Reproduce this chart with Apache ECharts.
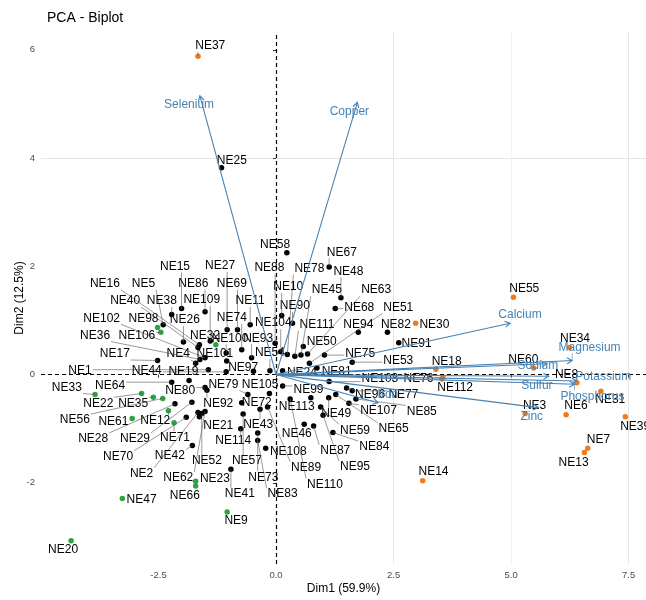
<!DOCTYPE html>
<html>
<head>
<meta charset="utf-8">
<script src="https://cdn.jsdelivr.net/npm/echarts@6/dist/echarts.min.js"></script>
<style>
  html, body { margin: 0; background: #fff; }
  #chart { width: 646px; height: 600px; }
</style>
</head>
<body>
<div id="chart"></div>
<script>
// tick labels
const xTicks = [-2.5, 0, 2.5, 5, 7.5];
const yTicks = [-2, 0, 2, 4, 6];

// individuals: [name, Dim1, Dim2, label Dim1, label Dim2]
const orangePoints = [
  ['NE37', -1.66, 5.88, -1.40, 6.07],
  ['NE55', 5.05, 1.43, 5.28, 1.58],
  ['NE30', 2.97, 0.95, 3.37, 0.92],
  ['NE34', 6.24, 0.50, 6.36, 0.67],
  ['NE60', 5.48, 0.12, 5.26, 0.28],
  ['NE8', 6.40, -0.15, 6.18, 0.00],
  ['NE31', 6.91, -0.31, 7.11, -0.46],
  ['NE3', 5.30, -0.72, 5.50, -0.58],
  ['NE6', 6.17, -0.74, 6.38, -0.58],
  ['NE39', 7.43, -0.78, 7.64, -0.96],
  ['NE7', 6.63, -1.36, 6.86, -1.21],
  ['NE13', 6.56, -1.44, 6.33, -1.62],
  ['NE18', 3.40, 0.10, 3.63, 0.24],
  ['NE76', 3.55, -0.06, 3.03, -0.07],
  ['NE112', 3.53, -0.08, 3.81, -0.24],
  ['NE14', 3.12, -1.96, 3.35, -1.79]
];

const greenPoints = [
  ['NE98', -2.52, 0.87, -2.82, 1.04],
  ['NE106', -2.45, 0.78, -2.96, 0.72],
  ['NE32', -1.28, 0.55, -1.51, 0.72],
  ['NE33', -3.85, -0.37, -4.45, -0.24],
  ['NE22', -2.86, -0.35, -3.78, -0.53],
  ['NE35', -2.61, -0.42, -3.04, -0.53],
  ['NE56', -2.41, -0.44, -4.28, -0.84],
  ['NE61', -3.06, -0.81, -3.46, -0.87],
  ['NE12', -2.29, -0.67, -2.57, -0.86],
  ['NE71', -2.17, -0.89, -2.15, -1.16],
  ['NE23', -1.71, -1.97, -1.30, -1.93],
  ['NE66', -1.71, -2.06, -1.94, -2.23],
  ['NE47', -3.27, -2.29, -2.86, -2.32],
  ['NE20', -4.36, -3.07, -4.53, -3.23],
  ['NE9', -1.04, -2.54, -0.85, -2.70]
];

const blackPoints = [
  ['NE25', -1.16, 3.82, -0.94, 3.96],
  ['NE15', -2.01, 1.22, -2.15, 2.00],
  ['NE16', -1.63, 0.55, -3.64, 1.68],
  ['NE5', -2.40, 0.92, -2.82, 1.68],
  ['NE86', -1.51, 1.16, -1.76, 1.68],
  ['NE27', -1.04, 0.83, -1.19, 2.01],
  ['NE40', -1.66, 0.50, -3.21, 1.36],
  ['NE38', -2.22, 1.11, -2.43, 1.36],
  ['NE109', -1.40, 0.62, -1.58, 1.38],
  ['NE69', -0.82, 0.83, -0.94, 1.68],
  ['NE11', -0.55, 0.92, -0.55, 1.36],
  ['NE102', -1.51, 0.31, -3.71, 1.04],
  ['NE26', -1.97, 0.60, -1.94, 1.01],
  ['NE74', -0.73, 0.46, -0.94, 1.05],
  ['NE36', -1.62, 0.28, -3.85, 0.72],
  ['NE17', -2.52, 0.26, -3.43, 0.38],
  ['NE4', -1.71, 0.21, -2.08, 0.38],
  ['NE100', -1.06, 0.40, -0.98, 0.67],
  ['NE101', -1.05, 0.25, -1.30, 0.38],
  ['NE93', -0.52, 0.31, -0.38, 0.67],
  ['NE54', -0.13, 0.07, -0.13, 0.40],
  ['NE1', -1.44, 0.09, -4.17, 0.07],
  ['NE44', -1.06, 0.05, -2.75, 0.07],
  ['NE19', -1.85, -0.11, -1.97, 0.05],
  ['NE97', -0.48, 0.06, -0.70, 0.12],
  ['NE64', -2.22, -0.14, -3.53, -0.21],
  ['NE80', -1.51, -0.24, -2.04, -0.30],
  ['NE92', -1.47, -0.29, -1.23, -0.54],
  ['NE79', -0.60, -0.37, -1.12, -0.18],
  ['NE28', -2.15, -0.54, -3.89, -1.19],
  ['NE29', -1.79, -0.51, -3.00, -1.19],
  ['NE70', -1.91, -0.79, -3.36, -1.52],
  ['NE2', -1.66, -0.70, -2.86, -1.83],
  ['NE62', -1.51, -0.68, -2.08, -1.91],
  ['NE21', -1.63, -0.78, -1.23, -0.95],
  ['NE52', -1.58, -0.72, -1.47, -1.60],
  ['NE42', -1.78, -1.31, -2.26, -1.50],
  ['NE41', -0.96, -1.75, -0.77, -2.21],
  ['NE72', -0.73, -0.52, -0.41, -0.52],
  ['NE57', -0.70, -0.73, -0.62, -1.60],
  ['NE114', -0.75, -1.00, -0.91, -1.23],
  ['NE43', -0.34, -0.64, -0.38, -0.93],
  ['NE89', -0.18, -0.60, 0.64, -1.72],
  ['NE73', -0.39, -1.08, -0.27, -1.90],
  ['NE83', -0.39, -1.22, 0.14, -2.21],
  ['NE108', -0.22, -1.36, 0.26, -1.42],
  ['NE105', -0.14, -0.35, -0.34, -0.18],
  ['NE99', 0.14, -0.21, 0.69, -0.28],
  ['NE113', 0.74, -0.43, 0.44, -0.60],
  ['NE110', 0.30, -0.45, 1.04, -2.03],
  ['NE46', 0.60, -0.92, 0.44, -1.10],
  ['NE87', 0.80, -0.95, 1.26, -1.41],
  ['NE49', 1.12, -0.43, 1.28, -0.73],
  ['NE59', 0.95, -0.60, 1.68, -1.03],
  ['NE95', 1.00, -0.75, 1.68, -1.71],
  ['NE84', 1.21, -1.07, 2.09, -1.34],
  ['NE65', 1.27, -0.37, 2.50, -1.00],
  ['NE107', 1.55, -0.53, 2.18, -0.67],
  ['NE96', 1.50, -0.25, 2.00, -0.38],
  ['NE77', 1.62, -0.30, 2.71, -0.38],
  ['NE85', 1.70, -0.45, 3.10, -0.68],
  ['NE103', 1.13, -0.13, 2.21, -0.07],
  ['NE24', 0.14, 0.07, 0.55, 0.03],
  ['NE81', 0.87, 0.12, 1.29, 0.06],
  ['NE51', 0.71, 0.21, 2.60, 1.24],
  ['NE53', 1.62, 0.23, 2.60, 0.26],
  ['NE75', 1.03, 0.36, 1.79, 0.38],
  ['NE50', 0.58, 0.52, 0.97, 0.61],
  ['NE111', 0.40, 0.34, 0.87, 0.92],
  ['NE45', 0.53, 0.36, 1.08, 1.56],
  ['NE63', 0.67, 0.38, 2.13, 1.56],
  ['NE78', 0.24, 0.37, 0.71, 1.96],
  ['NE104', 0.10, 0.42, -0.06, 0.95],
  ['NE88', -0.02, 0.58, -0.14, 1.97],
  ['NE90', 0.35, 0.95, 0.40, 1.27],
  ['NE10', 0.12, 1.09, 0.26, 1.62],
  ['NE68', 1.26, 1.22, 1.77, 1.24],
  ['NE48', 1.38, 1.42, 1.54, 1.91],
  ['NE67', 1.13, 1.99, 1.40, 2.26],
  ['NE58', 0.23, 2.25, -0.02, 2.40],
  ['NE94', 1.75, 0.78, 1.75, 0.92],
  ['NE82', 2.37, 0.78, 2.55, 0.92],
  ['NE91', 2.61, 0.59, 2.99, 0.58]
];

// variables: [name, Dim1, Dim2, label Dim1, label Dim2]
const variables = [
  ['Selenium', -1.62, 5.15, -1.85, 4.99],
  ['Copper', 1.73, 5.03, 1.56, 4.86],
  ['Calcium', 4.98, 0.95, 5.19, 1.10],
  ['Magnesium', 6.30, 0.26, 6.67, 0.50],
  ['Sodium', 5.76, 0.20, 5.57, 0.17],
  ['Potassium', 6.40, -0.12, 6.96, -0.03],
  ['Sulfur', 5.80, -0.03, 5.55, -0.21],
  ['Phosphorus', 6.35, -0.18, 6.73, -0.40],
  ['Zinc', 5.58, -0.61, 5.44, -0.78],
  ['Iron', 2.17, -0.52, 2.38, -0.38]
];

const FONT = '"Liberation Sans", Arial, sans-serif';
const ARROW = '#4682B4';
const MAJOR = '#E6E6E6';
const MINOR = '#F3F3F3';
const NONE = 'rgba(0,0,0,0)';

const measure = document.createElement('canvas').getContext('2d');
measure.font = '12px ' + FONT;

// text label with a repel-style segment back to its point
function labelSeries(rows, textColor, lineColor) {
  return {
    type: 'custom',
    coordinateSystem: 'cartesian2d',
    silent: true,
    z: 5,
    data: rows.map(r => [r[3], r[4]]),
    renderItem: (params, api) => {
      const r = rows[params.dataIndex];
      const p = api.coord([r[1], r[2]]);
      const c = api.coord([r[3], r[4]]);
      const hw = measure.measureText(r[0]).width / 2 + 1;
      const hh = 6;
      const qx = Math.max(c[0] - hw, Math.min(p[0], c[0] + hw));
      const qy = Math.max(c[1] - hh, Math.min(p[1], c[1] + hh));
      const children = [];
      if (Math.hypot(p[0] - qx, p[1] - qy) > 4) {
        children.push({
          type: 'line',
          shape: { x1: p[0], y1: p[1], x2: qx, y2: qy },
          style: { stroke: lineColor, lineWidth: 0.6 }
        });
      }
      children.push({
        type: 'text',
        style: {
          text: r[0], x: c[0], y: c[1], fill: textColor,
          font: '12px ' + FONT, align: 'center', verticalAlign: 'middle'
        }
      });
      return { type: 'group', children: children };
    }
  };
}

function pointSeries(rows, color) {
  return {
    type: 'scatter',
    symbolSize: 5.5,
    z: 3,
    itemStyle: { color: color, opacity: 1 },
    data: rows.map(r => [r[1], r[2]])
  };
}

const chart = echarts.init(document.getElementById('chart'), null, { renderer: 'canvas' });

const option = {
  animation: false,
  backgroundColor: '#fff',
  title: {
    text: 'PCA - Biplot',
    left: 42,
    top: 6,
    textStyle: { fontFamily: FONT, fontSize: 14, fontWeight: 'normal', color: '#000' }
  },
  grid: { left: 41, right: 0, top: 32, bottom: 32.5 },
  xAxis: {
    type: 'value',
    min: -5,
    max: 7.87,
    interval: 1.25,
    name: 'Dim1 (59.9%)',
    nameLocation: 'middle',
    nameGap: 19,
    nameMoveOverlap: false,
    nameTextStyle: { fontFamily: FONT, fontSize: 12, color: '#000' },
    axisLine: { show: false },
    axisTick: { show: true, customValues: xTicks, length: 3, lineStyle: { color: '#333' } },
    axisLabel: {
      customValues: xTicks,
      margin: 6,
      fontFamily: FONT, fontSize: 9.5, color: '#4D4D4D',
      formatter: v => xTicks.includes(v) ? v.toFixed(1) : ''
    },
    splitLine: {
      lineStyle: {
        color: [NONE, MINOR, MAJOR, MINOR, MAJOR, MINOR, MAJOR, MINOR, MAJOR, MINOR, MAJOR, NONE],
        width: 1
      }
    }
  },
  yAxis: {
    type: 'value',
    min: -3.5,
    max: 6.33,
    interval: 0.5,
    name: 'Dim2 (12.5%)',
    nameLocation: 'middle',
    nameGap: 15,
    nameMoveOverlap: false,
    nameTextStyle: { fontFamily: FONT, fontSize: 12, color: '#000' },
    axisLine: { show: false },
    axisTick: { show: true, customValues: yTicks, length: 3, lineStyle: { color: '#333' } },
    axisLabel: {
      customValues: yTicks,
      margin: 6,
      fontFamily: FONT, fontSize: 9.5, color: '#4D4D4D',
      formatter: v => yTicks.includes(v) ? String(v) : ''
    },
    splitLine: {
      lineStyle: { color: [NONE, MINOR, NONE, MAJOR], width: 1 }
    }
  },
  series: [
    {
      type: 'scatter',
      data: [],
      z: 2,
      markLine: {
        silent: true,
        symbol: 'none',
        label: { show: false },
        lineStyle: { color: '#000', type: [4, 3], width: 1.2 },
        data: [{ xAxis: 0 }, { yAxis: 0 }]
      }
    },
    pointSeries(blackPoints, '#000'),
    pointSeries(greenPoints, '#2CA442'),
    pointSeries(orangePoints, '#F07A1E'),
    labelSeries(blackPoints, '#000', '#555'),
    labelSeries(greenPoints, '#000', '#555'),
    labelSeries(orangePoints, '#000', '#555'),
    {
      type: 'custom',
      coordinateSystem: 'cartesian2d',
      silent: true,
      z: 6,
      data: variables.map(v => [v[1], v[2]]),
      renderItem: (params, api) => {
        const v = variables[params.dataIndex];
        const o = api.coord([0, 0]);
        const t = api.coord([v[1], v[2]]);
        const ang = Math.atan2(t[1] - o[1], t[0] - o[0]);
        const L = 6, a = Math.PI / 6;
        const h1 = [t[0] - L * Math.cos(ang - a), t[1] - L * Math.sin(ang - a)];
        const h2 = [t[0] - L * Math.cos(ang + a), t[1] - L * Math.sin(ang + a)];
        return {
          type: 'group',
          children: [
            { type: 'line', shape: { x1: o[0], y1: o[1], x2: t[0], y2: t[1] },
              style: { stroke: ARROW, lineWidth: 1.1 } },
            { type: 'polyline', shape: { points: [h1, t, h2] },
              style: { stroke: ARROW, lineWidth: 1.1, fill: null } }
          ]
        };
      }
    },
    Object.assign(labelSeries(variables, ARROW, ARROW), { z: 7 })
  ]
};

chart.setOption(option);
</script>
</body>
</html>
